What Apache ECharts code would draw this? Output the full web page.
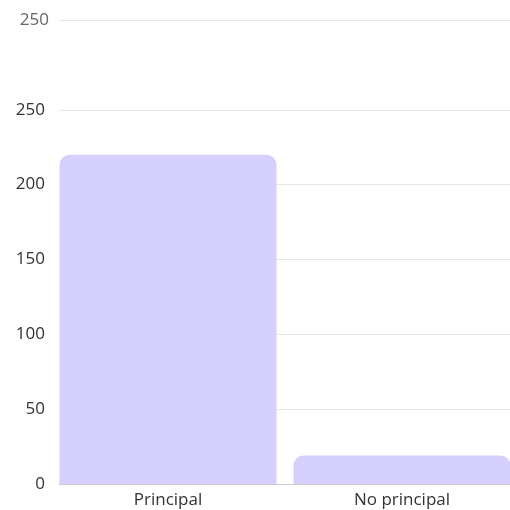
<!DOCTYPE html>
<html>
<head>
<meta charset="utf-8">
<script src="https://cdn.jsdelivr.net/npm/echarts@6/dist/echarts.min.js"></script>
<style>html,body{margin:0;padding:0;background:#fff}#c{width:510px;height:510px}</style>
</head>
<body>
<div id="c"></div>
<script>
var categories = ['Principal', 'No principal'];
var values = [220, 19];
var tickValues = [0, 50, 100, 150, 200, 250, 310];
var tickLabels = ['0', '50', '100', '150', '200', '250', '250'];
var yMax = 310;

var chart = echarts.init(document.getElementById('c'), null, {renderer: 'canvas'});
chart.setOption({
  animation: false,
  grid: [
    {left: 51, width: 468, top: 20, bottom: 26, containLabel: false, outerBoundsMode: 'none'},
    {left: 59, right: 0, top: 20, bottom: 26, containLabel: false, outerBoundsMode: 'none'}
  ],
  xAxis: [{
    type: 'category',
    gridIndex: 0,
    data: categories,
    axisTick: {show: false},
    axisLine: {show: false},
    axisLabel: {color: '#333333', fontFamily: 'Open Sans', fontSize: 17, margin: 8}
  }, {
    type: 'value',
    gridIndex: 1,
    min: 0, max: 1,
    axisTick: {show: false},
    axisLabel: {show: false},
    splitLine: {show: false},
    axisLine: {show: true, lineStyle: {color: '#cccccc', width: 1}}
  }],
  yAxis: [{
    type: 'value',
    gridIndex: 0,
    min: 0,
    max: yMax,
    axisLine: {show: false},
    axisTick: {show: false, customValues: tickValues},
    splitLine: {show: false},
    axisLabel: {
      customValues: tickValues,
      fontFamily: 'Open Sans',
      fontSize: 17,
      margin: 6,
      color: '#333333',
      formatter: function (v) {
        var i = tickValues.indexOf(v);
        var t = i >= 0 ? tickLabels[i] : String(v);
        return v === yMax ? '{top|' + t + '}' : t;
      },
      rich: {top: {color: '#666666', fontFamily: 'Open Sans', fontSize: 17, padding: [0, -4, 0, 0]}}
    }
  }, {
    type: 'value',
    gridIndex: 1,
    min: 0,
    max: yMax,
    axisLine: {show: false},
    axisTick: {show: false, customValues: tickValues},
    axisLabel: {show: false, customValues: tickValues},
    splitLine: {show: true, lineStyle: {color: '#e6e6e6', width: 1}}
  }],
  series: [{
    type: 'bar',
    xAxisIndex: 0,
    yAxisIndex: 0,
    data: values,
    barWidth: 217,
    itemStyle: {color: '#d5d0fd', borderRadius: [10, 10, 0, 0]}
  }]
});
</script>
</body>
</html>
